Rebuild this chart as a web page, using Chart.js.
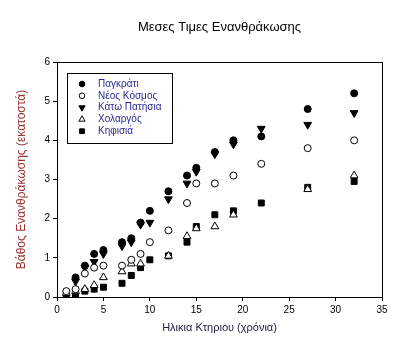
<!DOCTYPE html>
<html>
<head>
<meta charset="utf-8">
<script src="https://cdn.jsdelivr.net/npm/chart.js@4"></script>
<style>html,body{margin:0;padding:0;background:#fff}</style>
</head>
<body>
<canvas id="myChart" width="417" height="351"></canvas>
<script>
// Ages of buildings (years) - shared x values
const ages = [1, 2, 3, 4, 5, 7, 8, 9, 10, 12, 14, 15, 17, 19, 22, 27, 32];
// Carbonation depth (cm) per area, null = no point
const pagkrati    = [null, 0.5, 0.8, 1.1, 1.2, 1.4, 1.5, 1.9, 2.2, 2.7, 3.1, 3.3, 3.7, 4.0, 4.1, 4.8, 5.2];
const neosKosmos  = [0.15, 0.2, 0.6, 0.75, 0.8, 0.8, 0.95, 1.1, 1.4, 1.7, 2.4, 2.9, 2.9, 3.1, 3.4, 3.8, 4.0];
const katoPatisia = [null, 0.4, 0.75, 0.9, 1.1, 1.3, 1.4, 1.85, 1.9, 2.5, 2.9, 3.2, 3.65, 3.9, 4.3, 4.4, 4.7];
const cholargos   = [0.1, 0.15, 0.2, 0.3, 0.5, 0.65, 0.85, 0.85, null, 1.05, 1.55, 1.75, 1.8, 2.1, null, 2.75, 3.1];
const kifisia     = [0.05, 0.0, 0.15, 0.2, 0.25, 0.35, 0.55, 0.75, 0.95, 1.05, 1.4, 1.8, 2.1, 2.2, 2.4, 2.8, 2.95];

const xTicks = [0, 5, 10, 15, 20, 25, 30, 35];
const yTicks = [0, 1, 2, 3, 4, 5, 6];

function pts(vals) {
  return ages.map((a, i) => ({x: a, y: vals[i]})).filter(p => p.y !== null);
}

const font = 'Liberation Sans, Arial, sans-serif';

// legend drawn inside the plot area, like the original
const boxLegend = {
  id: 'boxLegend',
  afterDraw(chart) {
    const ctx = chart.ctx;
    ctx.save();
    ctx.strokeStyle = '#000';
    ctx.lineWidth = 1;
    ctx.strokeRect(67.5, 73.5, 105, 70);
    ctx.font = '10px ' + font;
    ctx.textBaseline = 'middle';
    chart.data.datasets.forEach((ds, i) => {
      const y = 84 + i * 11.8;
      ctx.fillStyle = ds.backgroundColor;
      ctx.strokeStyle = ds.borderColor;
      ctx.lineWidth = 1;
      Chart.helpers.drawPoint(ctx, {
        pointStyle: ds.pointStyle,
        radius: ds.pointRadius * 0.8,
        rotation: ds.pointRotation || 0,
        borderWidth: 1
      }, 82, y);
      ctx.fillStyle = '#2a2a96';
      ctx.fillText(ds.label, 98, y);
    });
    ctx.restore();
  }
};

// box round the plot area
const frame = {
  id: 'frame',
  afterDraw(chart) {
    const a = chart.chartArea;
    const ctx = chart.ctx;
    ctx.save();
    ctx.strokeStyle = '#000';
    ctx.lineWidth = 1;
    ctx.strokeRect(Math.round(a.left) + 0.5, Math.round(a.top) + 0.5, Math.round(a.right - a.left), Math.round(a.bottom - a.top));
    ctx.restore();
  }
};

const ctx = document.getElementById('myChart').getContext('2d');
const myChart = new Chart(ctx, {
  type: 'scatter',
  data: {
    datasets: [
      {label: 'Παγκράτι', data: pts(pagkrati), pointStyle: 'circle', pointRadius: 3.5, backgroundColor: '#000', borderColor: '#000', borderWidth: 1},
      {label: 'Νέος Κόσμος', data: pts(neosKosmos), pointStyle: 'circle', pointRadius: 3.5, backgroundColor: '#fff', borderColor: '#000', borderWidth: 1},
      {label: 'Κάτω Πατήσια', data: pts(katoPatisia), pointStyle: 'triangle', pointRotation: 180, pointRadius: 4.5, backgroundColor: '#000', borderColor: '#000', borderWidth: 1},
      {label: 'Χολαργός', data: pts(cholargos), pointStyle: 'triangle', pointRadius: 4.5, backgroundColor: '#fff', borderColor: '#000', borderWidth: 1},
      {label: 'Κηφισιά', data: pts(kifisia), pointStyle: 'rect', pointRadius: 4.2, backgroundColor: '#000', borderColor: '#000', borderWidth: 1}
    ]
  },
  options: {
    responsive: false,
    animation: false,
    devicePixelRatio: 1,
    layout: {padding: {left: 0, right: 35, top: 0, bottom: 0}},
    plugins: {
      legend: {display: false},
      tooltip: {enabled: false},
      title: {
        display: true,
        fullSize: false,
        text: 'Μεσες Τιμες Ενανθράκωσης',
        color: '#000',
        font: {family: font, size: 13, weight: 'normal'},
        padding: {top: 20, bottom: 26.4}
      }
    },
    scales: {
      x: {
        type: 'linear',
        min: 0,
        max: 35,
        afterFit: s => { s.height = 54; },
        afterBuildTicks: s => { s.ticks = xTicks.map(v => ({value: v})); },
        grid: {drawOnChartArea: false, drawTicks: true, tickLength: 4, color: '#000'},
        border: {color: '#000', width: 1},
        ticks: {color: '#000', font: {family: font, size: 10}, padding: 3, maxRotation: 0},
        title: {display: true, text: 'Ηλικια Κτηριου (χρόνια)', color: '#222244', font: {family: font, size: 11}, padding: {top: 0, bottom: 16}}
      },
      y: {
        type: 'linear',
        min: 0,
        max: 6,
        afterFit: s => { s.width = 57; },
        afterBuildTicks: s => { s.ticks = yTicks.map(v => ({value: v})); },
        grid: {drawOnChartArea: false, drawTicks: true, tickLength: 4, color: '#000'},
        border: {color: '#000', width: 1},
        ticks: {color: '#000', font: {family: font, size: 10}, padding: 3},
        title: {display: true, text: 'Βάθος Ενανθράκωσης (εκατοστά)', color: '#9a3030', font: {family: font, size: 12}, padding: {top: 14, bottom: 0}}
      }
    }
  },
  plugins: [boxLegend, frame]
});
</script>
</body>
</html>
